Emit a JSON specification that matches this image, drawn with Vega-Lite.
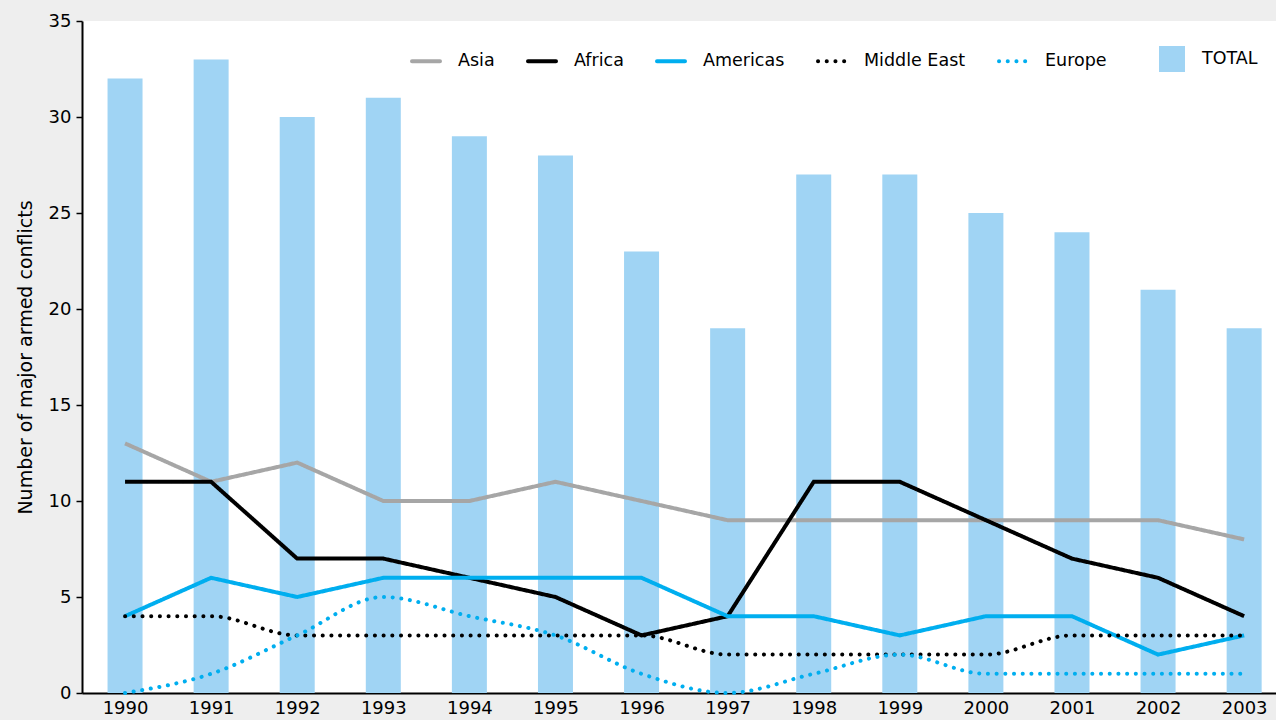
{
  "$schema": "https://vega.github.io/schema/vega-lite/v6.json",
  "width": 1194,
  "height": 672,
  "autosize": {"type": "none"},
  "padding": {"left": 82, "top": 21, "right": 0, "bottom": 27},
  "background": "#eeeeee",
  "config": {
    "view": {"fill": "white", "stroke": null},
    "font": "DejaVu Sans",
    "axis": {"labelFont": "DejaVu Sans", "titleFont": "DejaVu Sans", "labelColor": "black", "titleColor": "black", "grid": false},
    "legend": {"labelFont": "DejaVu Sans"}
  },
  "datasets": {
    "totals": [
      {"year": 1990, "series": "TOTAL", "value": 32},
      {"year": 1991, "series": "TOTAL", "value": 33},
      {"year": 1992, "series": "TOTAL", "value": 30},
      {"year": 1993, "series": "TOTAL", "value": 31},
      {"year": 1994, "series": "TOTAL", "value": 29},
      {"year": 1995, "series": "TOTAL", "value": 28},
      {"year": 1996, "series": "TOTAL", "value": 23},
      {"year": 1997, "series": "TOTAL", "value": 19},
      {"year": 1998, "series": "TOTAL", "value": 27},
      {"year": 1999, "series": "TOTAL", "value": 27},
      {"year": 2000, "series": "TOTAL", "value": 25},
      {"year": 2001, "series": "TOTAL", "value": 24},
      {"year": 2002, "series": "TOTAL", "value": 21},
      {"year": 2003, "series": "TOTAL", "value": 19}
    ],
    "regions": [
      {"year": 1990, "region": "Asia", "value": 13},
      {"year": 1991, "region": "Asia", "value": 11},
      {"year": 1992, "region": "Asia", "value": 12},
      {"year": 1993, "region": "Asia", "value": 10},
      {"year": 1994, "region": "Asia", "value": 10},
      {"year": 1995, "region": "Asia", "value": 11},
      {"year": 1996, "region": "Asia", "value": 10},
      {"year": 1997, "region": "Asia", "value": 9},
      {"year": 1998, "region": "Asia", "value": 9},
      {"year": 1999, "region": "Asia", "value": 9},
      {"year": 2000, "region": "Asia", "value": 9},
      {"year": 2001, "region": "Asia", "value": 9},
      {"year": 2002, "region": "Asia", "value": 9},
      {"year": 2003, "region": "Asia", "value": 8},
      {"year": 1990, "region": "Africa", "value": 11},
      {"year": 1991, "region": "Africa", "value": 11},
      {"year": 1992, "region": "Africa", "value": 7},
      {"year": 1993, "region": "Africa", "value": 7},
      {"year": 1994, "region": "Africa", "value": 6},
      {"year": 1995, "region": "Africa", "value": 5},
      {"year": 1996, "region": "Africa", "value": 3},
      {"year": 1997, "region": "Africa", "value": 4},
      {"year": 1998, "region": "Africa", "value": 11},
      {"year": 1999, "region": "Africa", "value": 11},
      {"year": 2000, "region": "Africa", "value": 9},
      {"year": 2001, "region": "Africa", "value": 7},
      {"year": 2002, "region": "Africa", "value": 6},
      {"year": 2003, "region": "Africa", "value": 4},
      {"year": 1990, "region": "Americas", "value": 4},
      {"year": 1991, "region": "Americas", "value": 6},
      {"year": 1992, "region": "Americas", "value": 5},
      {"year": 1993, "region": "Americas", "value": 6},
      {"year": 1994, "region": "Americas", "value": 6},
      {"year": 1995, "region": "Americas", "value": 6},
      {"year": 1996, "region": "Americas", "value": 6},
      {"year": 1997, "region": "Americas", "value": 4},
      {"year": 1998, "region": "Americas", "value": 4},
      {"year": 1999, "region": "Americas", "value": 3},
      {"year": 2000, "region": "Americas", "value": 4},
      {"year": 2001, "region": "Americas", "value": 4},
      {"year": 2002, "region": "Americas", "value": 2},
      {"year": 2003, "region": "Americas", "value": 3},
      {"year": 1990, "region": "Middle East", "value": 4},
      {"year": 1991, "region": "Middle East", "value": 4},
      {"year": 1992, "region": "Middle East", "value": 3},
      {"year": 1993, "region": "Middle East", "value": 3},
      {"year": 1994, "region": "Middle East", "value": 3},
      {"year": 1995, "region": "Middle East", "value": 3},
      {"year": 1996, "region": "Middle East", "value": 3},
      {"year": 1997, "region": "Middle East", "value": 2},
      {"year": 1998, "region": "Middle East", "value": 2},
      {"year": 1999, "region": "Middle East", "value": 2},
      {"year": 2000, "region": "Middle East", "value": 2},
      {"year": 2001, "region": "Middle East", "value": 3},
      {"year": 2002, "region": "Middle East", "value": 3},
      {"year": 2003, "region": "Middle East", "value": 3},
      {"year": 1990, "region": "Europe", "value": 0},
      {"year": 1991, "region": "Europe", "value": 1},
      {"year": 1992, "region": "Europe", "value": 3},
      {"year": 1993, "region": "Europe", "value": 5},
      {"year": 1994, "region": "Europe", "value": 4},
      {"year": 1995, "region": "Europe", "value": 3},
      {"year": 1996, "region": "Europe", "value": 1},
      {"year": 1997, "region": "Europe", "value": 0},
      {"year": 1998, "region": "Europe", "value": 1},
      {"year": 1999, "region": "Europe", "value": 2},
      {"year": 2000, "region": "Europe", "value": 1},
      {"year": 2001, "region": "Europe", "value": 1},
      {"year": 2002, "region": "Europe", "value": 1},
      {"year": 2003, "region": "Europe", "value": 1}
    ]
  },
  "encoding": {
    "x": {
      "field": "year", "type": "quantitative",
      "scale": {"domain": [1989.5, 2003.37], "nice": false, "zero": false, "padding": 0},
      "axis": {
        "title": null, "values": [1990,1991,1992,1993,1994,1995,1996,1997,1998,1999,2000,2001,2002,2003],
        "format": "d", "labelFontSize": 18, "ticks": false, "labelPadding": 6,
        "domainColor": "black", "domainWidth": 2, "labelFlush": false, "labelOverlap": false
      }
    },
    "y": {
      "field": "value", "type": "quantitative",
      "scale": {"domain": [0, 35], "nice": false},
      "axis": {
        "title": "Number of major armed conflicts", "values": [0,5,10,15,20,25,30,35],
        "labelFontSize": 18, "titleFontSize": 19, "titleFontWeight": "normal", "titlePadding": 13,
        "domainColor": "black", "domainWidth": 2, "tickColor": "black", "tickSize": 6, "tickWidth": 1.5,
        "labelPadding": 5
      }
    }
  },
  "layer": [
    {
      "data": {"name": "totals"},
      "mark": {"type": "bar", "size": 35},
      "encoding": {
        "fill": {
          "field": "series", "type": "nominal",
          "scale": {"domain": ["TOTAL"], "range": ["#a0d4f4"]},
          "legend": {
            "title": null, "orient": "none", "legendX": 1077, "legendY": 25,
            "symbolType": "square", "symbolSize": 676, "symbolStrokeWidth": 0, "symbolOpacity": 1,
            "labelFontSize": 17.5, "labelColor": "black", "labelOffset": 17
          }
        }
      }
    },
    {
      "data": {"name": "regions"},
      "transform": [{"filter": "datum.region === 'Asia' || datum.region === 'Africa' || datum.region === 'Americas'"}],
      "mark": {"type": "line", "strokeWidth": 4, "interpolate": "linear", "strokeCap": "butt"},
      "encoding": {
        "detail": {"field": "region"},
        "stroke": {
          "field": "region", "type": "nominal",
          "scale": {"domain": ["Asia", "Africa", "Americas", "Middle East", "Europe"], "range": ["#a6a6a6", "#000000", "#00aeef", "#000000", "#00aeef"]},
          "legend": {
            "title": null, "orient": "none", "legendX": 328, "legendY": 24, "direction": "horizontal",
            "symbolType": "stroke", "symbolSize": 784, "symbolStrokeWidth": 4,
            "labelFontSize": 17.5, "labelColor": "black", "labelOffset": 16, "columnPadding": 25,
            "labelLimit": 300,
            "encode": {"symbols": {"update": {"strokeCap": {"value": "round"}}}}
          }
        },
        "strokeDash": {
          "field": "region", "type": "nominal",
          "scale": {"domain": ["Asia", "Africa", "Americas", "Middle East", "Europe"], "range": [[1, 0], [1, 0], [1, 0], [0.1, 8.6], [0.1, 8.6]]},
          "legend": {
            "title": null, "orient": "none", "legendX": 328, "legendY": 24, "direction": "horizontal",
            "symbolType": "stroke", "symbolSize": 784, "symbolStrokeWidth": 4,
            "labelFontSize": 17.5, "labelColor": "black", "labelOffset": 16, "columnPadding": 25,
            "labelLimit": 300,
            "encode": {"symbols": {"update": {"strokeCap": {"value": "round"}}}}
          }
        }
      }
    },
    {
      "data": {"name": "regions"},
      "transform": [{"filter": "datum.region === 'Middle East' || datum.region === 'Europe'"}],
      "mark": {"type": "line", "strokeWidth": 4, "interpolate": "monotone", "strokeCap": "round"},
      "encoding": {
        "detail": {"field": "region"},
        "stroke": {"field": "region", "type": "nominal"},
        "strokeDash": {"field": "region", "type": "nominal"}
      }
    }
  ]
}
